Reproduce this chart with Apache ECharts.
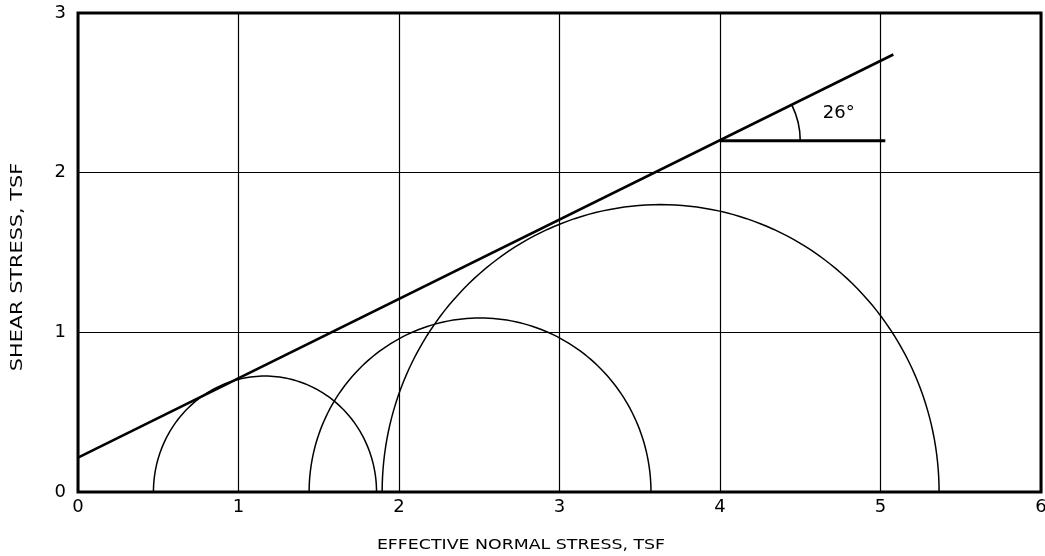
<!DOCTYPE html>
<html>
<head>
<meta charset="utf-8">
<script src="https://cdn.jsdelivr.net/npm/echarts@6/dist/echarts.min.js"></script>
<style>
html,body{margin:0;padding:0;background:#fff;}
#chart{width:1045px;height:556px;}
</style>
</head>
<body>
<div id="chart"></div>
<script>
// Mohr circles: [sigma3, sigma1, peak shear]
const circles = [
  [0.47, 1.86, 0.726],
  [1.44, 3.57, 1.09],
  [1.895, 5.365, 1.80]
];
// Failure envelope endpoints
const envelope = [[0, 0.215], [5.08, 2.74]];
// Horizontal reference for angle
const angleRef = [[4, 2.2], [5.03, 2.2]];
// Angle annotation: [x, y, radius (x units), angle deg, label x, label y]
const angleMark = [[4, 2.2, 0.5, 26.4, 4.74, 2.37]];
const angleLabel = '26°';
const xTicks = [0, 1, 2, 3, 4, 5, 6];
const yTicks = [0, 1, 2, 3];
const xName = 'EFFECTIVE NORMAL STRESS, TSF';
const yName = 'SHEAR STRESS, TSF';

const font = 'DejaVu Sans';
const chart = echarts.init(document.getElementById('chart'), null, {renderer: 'canvas'});
chart.setOption({
  backgroundColor: '#fff',
  animation: false,
  grid: {left: 78, right: 4, top: 13, bottom: 64, containLabel: false, outerBoundsMode: 'none',
         show: true, borderColor: '#000', borderWidth: 3, backgroundColor: 'transparent'},
  graphic: [
    {type: 'text', x: 521, y: 545, scaleX: 1.24, style: {text: xName, fontFamily: font, fontSize: 14, fill: '#000', align: 'center', verticalAlign: 'middle'}},
    {type: 'text', x: 18, y: 267, rotation: Math.PI / 2, scaleX: 1.3, style: {text: yName, fontFamily: font, fontSize: 16, fill: '#000', align: 'center', verticalAlign: 'middle'}}
  ],
  xAxis: {
    type: 'value', min: xTicks[0], max: xTicks[xTicks.length - 1], interval: 1,
    axisLine: {show: false}, axisTick: {show: false},
    axisLabel: {fontFamily: font, fontSize: 18, color: '#000', margin: 6},
    splitLine: {show: true, lineStyle: {color: '#000', width: 1.2}}
  },
  yAxis: {
    type: 'value', min: yTicks[0], max: yTicks[yTicks.length - 1], interval: 1,
    axisLine: {show: false}, axisTick: {show: false},
    axisLabel: {fontFamily: font, fontSize: 18, color: '#000', margin: 12, padding: [8, 0, 0, 0], lineHeight: 18, verticalAlign: 'middle'},
    splitLine: {show: true, lineStyle: {color: '#000', width: 1.2}}
  },
  series: [
    {
      type: 'custom', data: circles, clip: true,
      renderItem: function (params, api) {
        const a = api.value(0), b = api.value(1), h = api.value(2);
        const c = (a + b) / 2, r = (b - a) / 2;
        const pts = [];
        const n = 120;
        for (let i = 0; i <= n; i++) {
          const t = Math.PI * i / n;
          pts.push(api.coord([c + r * Math.cos(t), h * Math.sin(t)]));
        }
        return {type: 'polyline', shape: {points: pts}, style: {stroke: '#000', lineWidth: 1.5, fill: null}};
      }
    },
    {
      type: 'line', data: envelope, symbol: 'none',
      lineStyle: {color: '#000', width: 2.6}
    },
    {
      type: 'line', data: angleRef, symbol: 'none',
      lineStyle: {color: '#000', width: 3}
    },
    {
      type: 'custom', data: angleMark,
      renderItem: function (params, api) {
        const p = api.coord([api.value(0), api.value(1)]);
        const r = api.size([api.value(2), 0])[0];
        const ang = api.value(3) * Math.PI / 180;
        const lp = api.coord([api.value(4), api.value(5)]);
        return {
          type: 'group', children: [
            {type: 'arc', shape: {cx: p[0], cy: p[1], r: r, startAngle: -ang, endAngle: 0, clockwise: true}, style: {stroke: '#000', lineWidth: 1.6, fill: null}},
            {type: 'text', x: lp[0], y: lp[1], style: {text: angleLabel, fontFamily: font, fontSize: 18, fill: '#000', align: 'center', verticalAlign: 'middle'}}
          ]
        };
      }
    }
  ]
});
</script>
</body>
</html>
